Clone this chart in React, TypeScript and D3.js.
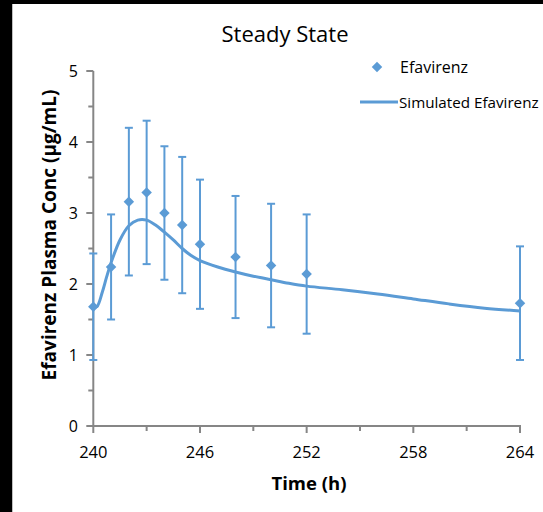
import React from 'react';
import * as d3 from 'd3';

// observed efavirenz (mean ± sd)
const obsTime = [240, 241, 242, 243, 244, 245, 246, 248, 250, 252, 264];
const obsConc = [1.68, 2.24, 3.16, 3.29, 3.00, 2.83, 2.56, 2.38, 2.26, 2.14, 1.73];
const obsSd = [0.75, 0.74, 1.04, 1.01, 0.94, 0.96, 0.91, 0.86, 0.87, 0.84, 0.80];

// simulated curve
const simTime = [240, 240.2, 240.5, 240.75, 241, 241.5, 242, 242.5, 243, 243.5, 244, 244.5, 245, 245.5, 246, 247, 248, 249, 250, 251, 252, 254, 256, 258, 260, 262, 264];
const simConc = [1.67, 1.68, 1.88, 2.10, 2.30, 2.62, 2.82, 2.90, 2.90, 2.83, 2.73, 2.62, 2.50, 2.40, 2.33, 2.24, 2.17, 2.11, 2.06, 2.01, 1.97, 1.92, 1.86, 1.79, 1.72, 1.66, 1.62];

const xTicks = [240, 246, 252, 258, 264];
const xMinor = [243, 249, 255, 261];
const yTicks = [0, 1, 2, 3, 4, 5];
const yMinor = [0.5, 1.5, 2.5, 3.5, 4.5];

const blue = '#5b9bd5';
const axisGray = '#868686';
const font = '"Open Sans", sans-serif';

export default function App() {
  const x = d3.scaleLinear().domain([240, 264]).range([93.3, 520]);
  const y = d3.scaleLinear().domain([0, 5]).range([426, 71]);

  const line = d3
    .line<number>()
    .x((_, i) => x(simTime[i]))
    .y((d) => y(d))
    .curve(d3.curveCatmullRom);

  const diamond = d3.symbol().type(d3.symbolDiamond2).size(70)();

  return (
    <svg width={543} height={512} style={{ position: 'absolute', left: 0, top: 0, background: '#fff' }}>
      <rect x={0} y={0} width={543} height={4} fill="#000" />
      <rect x={0} y={0} width={12} height={512} fill="#000" />
      <line x1={12.5} x2={12.5} y1={4} y2={512} stroke="#bfbfbf" />

      <text x={285} y={42} textAnchor="middle" fontFamily={font} fontSize={22} fill="#000">
        Steady State
      </text>

      {/* axes */}
      <line x1={x(240)} x2={x(240)} y1={y(5)} y2={y(0)} stroke={axisGray} strokeWidth={2} />
      <line x1={x(240) - 1} x2={x(264) + 1} y1={y(0)} y2={y(0)} stroke={axisGray} strokeWidth={2} />
      {yTicks.map((t) => (
        <g key={'y' + t}>
          <line x1={x(240) - 7} x2={x(240)} y1={y(t)} y2={y(t)} stroke={axisGray} strokeWidth={2} />
          <text x={78} y={y(t)} dy="0.35em" textAnchor="end" fontFamily={font} fontSize={16} fill="#000">
            {t}
          </text>
        </g>
      ))}
      {yMinor.map((t) => (
        <line key={'ym' + t} x1={x(240) - 5} x2={x(240)} y1={y(t)} y2={y(t)} stroke={axisGray} strokeWidth={2} />
      ))}
      {xTicks.map((t) => (
        <g key={'x' + t}>
          <line x1={x(t)} x2={x(t)} y1={y(0)} y2={y(0) + 7} stroke={axisGray} strokeWidth={2} />
          <text x={x(t)} y={458} textAnchor="middle" fontFamily={font} fontSize={16.5} fill="#000">
            {t}
          </text>
        </g>
      ))}
      {xMinor.map((t) => (
        <line key={'xm' + t} x1={x(t)} x2={x(t)} y1={y(0)} y2={y(0) + 5} stroke={axisGray} strokeWidth={2} />
      ))}

      <text x={309} y={490} textAnchor="middle" fontFamily={font} fontSize={18.5} fontWeight="bold" fill="#000">
        Time (h)
      </text>
      <text
        transform={`translate(56, 235) rotate(-90)`}
        textAnchor="middle"
        fontFamily={font}
        fontSize={19}
        fontWeight="bold"
        fill="#000"
      >
        Efavirenz Plasma Conc (µg/mL)
      </text>

      {/* error bars */}
      {obsTime.map((t, i) => (
        <g key={'e' + t} stroke={blue} strokeWidth={2}>
          <line x1={x(t)} x2={x(t)} y1={y(obsConc[i] + obsSd[i])} y2={y(obsConc[i] - obsSd[i])} />
          <line x1={x(t) - 4} x2={x(t) + 4} y1={y(obsConc[i] + obsSd[i])} y2={y(obsConc[i] + obsSd[i])} />
          <line x1={x(t) - 4} x2={x(t) + 4} y1={y(obsConc[i] - obsSd[i])} y2={y(obsConc[i] - obsSd[i])} />
        </g>
      ))}

      <path d={line(simConc) || ''} fill="none" stroke={blue} strokeWidth={3} />

      {obsTime.map((t, i) => (
        <path key={'p' + t} d={diamond || ''} transform={`translate(${x(t)},${y(obsConc[i])})`} fill={blue} />
      ))}

      {/* legend */}
      <path d={diamond || ''} transform="translate(377,67)" fill={blue} />
      <text x={400} y={73} fontFamily={font} fontSize={16} fill="#000">
        Efavirenz
      </text>
      <line x1={360} x2={398} y1={102} y2={102} stroke={blue} strokeWidth={3} />
      <text x={399} y={108} fontFamily={font} fontSize={15.2} fill="#000">
        Simulated Efavirenz
      </text>
    </svg>
  );
}
